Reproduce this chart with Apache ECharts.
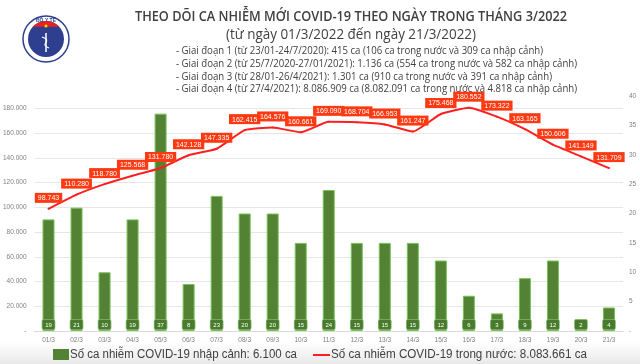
<!DOCTYPE html>
<html>
<head>
<meta charset="utf-8">
<script src="https://cdn.jsdelivr.net/npm/echarts@6/dist/echarts.min.js"></script>
<style>html,body{margin:0;padding:0;background:#fff}#c{width:640px;height:364px}</style>
</head>
<body>
<div id="c"></div>
<script>
const categories = ['01/3','02/3','03/3','04/3','05/3','06/3','07/3','08/3','09/3','10/3','11/3','12/3','13/3','14/3','15/3','16/3','17/3','18/3','19/3','20/3','21/3'];
const importedCases = [19,21,10,19,37,8,23,20,20,15,24,15,15,15,12,6,3,9,12,2,4];
const domesticCases = [98743,110280,118780,125568,131780,142128,147335,162415,164576,160661,169090,168704,166953,161247,175468,180552,173322,163165,150606,141149,131709];
const titleText = 'THEO DÕI CA NHIỄM MỚI COVID-19 THEO NGÀY TRONG THÁNG 3/2022';
const subtitleText = '(từ ngày 01/3/2022 đến ngày 21/3/2022)';
const phaseLines = [
  '- Giai đoạn 1 (từ 23/01-24/7/2020): 415 ca (106 ca trong nước và 309 ca nhập cảnh)',
  '- Giai đoạn 2 (từ 25/7/2020-27/01/2021): 1.136 ca (554 ca trong nước và 582 ca nhập cảnh)',
  '- Giai đoạn 3 (từ 28/01-26/4/2021): 1.301 ca (910 ca trong nước và 391 ca nhập cảnh)',
  '- Giai đoạn 4 (từ 27/4/2021): 8.086.909 ca (8.082.091 ca trong nước và 4.818 ca nhập cảnh)'
];
const legendImported = 'Số ca nhiễm COVID-19 nhập cảnh: 6.100 ca';
const legendDomestic = 'Số ca nhiễm COVID-19 trong nước: 8.083.661 ca';

const fmt = v => String(v).replace(/\B(?=(\d{3})+(?!\d))/g, '.');
const FONT = '"Open Sans", "Liberation Sans", sans-serif';
const mctx = document.createElement('canvas').getContext('2d');
function fitText(text, font, x, y, targetW, color) {
  mctx.font = font;
  const w = mctx.measureText(text).width;
  return {type: 'text', x: x, y: y, scaleX: targetW / w, scaleY: 1,
          style: {text: text, font: font, fill: color, align: 'left', verticalAlign: 'middle'}};
}

// logo (decoration)
const cx = 46, cy = 39, r = 18;
const redPts = [];
const a0 = Math.PI + 0.75, a1 = 2 * Math.PI - 0.75;
for (let i = 0; i <= 20; i++) {
  const a = a0 + (a1 - a0) * i / 20;
  redPts.push([cx + r * Math.cos(a), cy + r * Math.sin(a)]);
}

const chart = echarts.init(document.getElementById('c'), null, {renderer: 'canvas'});
const graphics = [
  {type: 'rect', left: 0, top: 342, shape: {width: 640, height: 22}, silent: true, z: -10,
   style: {fill: new echarts.graphic.LinearGradient(0, 0, 0, 1, [{offset: 0, color: '#ffffff'}, {offset: 1, color: '#e9e9e9'}])}},
  {type: 'circle', shape: {cx: cx, cy: cy, r: 23}, style: {fill: '#ffffff', stroke: '#2d3f8e', lineWidth: 1.5}},
  {type: 'circle', shape: {cx: cx, cy: cy, r: r}, style: {fill: '#2d3f8e'}},
  {type: 'polygon', shape: {points: redPts}, style: {fill: '#e52420'}},
  {type: 'circle', shape: {cx: cx, cy: cy - 13, r: 1.5}, style: {fill: '#ffd400'}},
  {type: 'line', shape: {x1: cx, y1: cy - 6, x2: cx, y2: cy + 13}, style: {stroke: '#ffffff', lineWidth: 1.5}},
  {type: 'bezierCurve', shape: {x1: cx - 4, y1: cy - 2, x2: cx + 3, y2: cy + 9, cpx1: cx + 8, cpy1: cy + 2, cpx2: cx - 8, cpy2: cy + 5}, style: {stroke: '#ffffff', lineWidth: 1.2, fill: null}},
  {type: 'text', x: cx, y: 21, style: {text: 'BỘ Y TẾ', fontSize: 5, fontWeight: 'bold', fill: '#2d3f8e', align: 'center', verticalAlign: 'middle'}},
  fitText(titleText, '600 15px ' + FONT, 135, 16.5, 432, '#404040'),
  fitText(subtitleText, 'normal 15px ' + FONT, 226, 34.5, 250, '#404040')
];
const phaseY = [50.5, 63.5, 76.5, 89];
const phaseW = [367, 401, 376, 401];
phaseLines.forEach((t, i) => graphics.push(fitText(t, 'normal 11.5px ' + FONT, 176, phaseY[i], phaseW[i], '#404040')));
graphics.push(
  {type: 'rect', shape: {x: 53, y: 349, width: 16, height: 11}, style: {fill: '#548235'}},
  fitText(legendImported, 'normal 12px "Liberation Sans", Arial, sans-serif', 70, 355, 227, '#404040'),
  {type: 'line', shape: {x1: 313, y1: 355, x2: 330, y2: 355}, style: {stroke: '#ff1f1f', lineWidth: 2}},
  fitText(legendDomestic, 'normal 12px "Liberation Sans", Arial, sans-serif', 331, 355, 256, '#404040')
);

chart.setOption({
  animation: false,
  backgroundColor: '#ffffff',
  grid: {left: 30, right: 17, top: 96, bottom: 33, containLabel: false},
  xAxis: {
    type: 'category', data: categories,
    axisLine: {show: true, lineStyle: {color: '#d9d9d9'}},
    axisTick: {show: false},
    axisLabel: {color: '#808080', fontSize: 6.5, margin: 6, fontFamily: 'Liberation Sans'}
  },
  yAxis: [
    {type: 'value', min: 0, max: 190000, interval: 20000,
     axisLine: {show: false}, axisTick: {show: false},
     splitLine: {show: true, showMaxLine: false, lineStyle: {color: '#e6e6e6', width: 1}},
     axisLabel: {showMaxLabel: false, color: '#808080', fontSize: 6.5, margin: 8, fontFamily: 'Liberation Sans', formatter: v => v === 0 ? '-' : fmt(v)}},
    {type: 'value', min: 0, max: 40, interval: 5, position: 'right',
     axisLine: {show: false}, axisTick: {show: false}, splitLine: {show: false},
     axisLabel: {color: '#808080', fontSize: 6.5, margin: 6, fontFamily: 'Liberation Sans', formatter: v => v === 0 ? '-' : String(v)}}
  ],
  series: [
    {type: 'bar', name: legendImported, yAxisIndex: 1, data: importedCases, barWidth: 12,
     itemStyle: {color: '#548235', borderColor: '#76c257', borderWidth: 1},
     label: {show: true, position: 'insideBottom', distance: 2, color: '#ffffff', fontSize: 6, fontFamily: 'Liberation Sans',
             backgroundColor: '#4a7a2e', borderColor: '#7fb964', borderWidth: 0.8, borderRadius: 1, padding: [2, 2, 1, 2], width: 8, align: 'center'}},
    {type: 'line', name: legendDomestic, yAxisIndex: 0, data: domesticCases, smooth: 0.15,
     symbol: 'circle', symbolSize: 2, showSymbol: true, z: 5,
     itemStyle: {color: '#ff1f1f'},
     lineStyle: {color: '#ff1f1f', width: 2},
     label: {show: true, position: 'top', distance: 5, color: '#ffffff', fontSize: 7, fontFamily: 'Liberation Sans',
             backgroundColor: '#ff3a12', padding: [2, 3, 1, 3], formatter: p => fmt(p.value)}}
  ],
  graphic: graphics
});
</script>
</body>
</html>
